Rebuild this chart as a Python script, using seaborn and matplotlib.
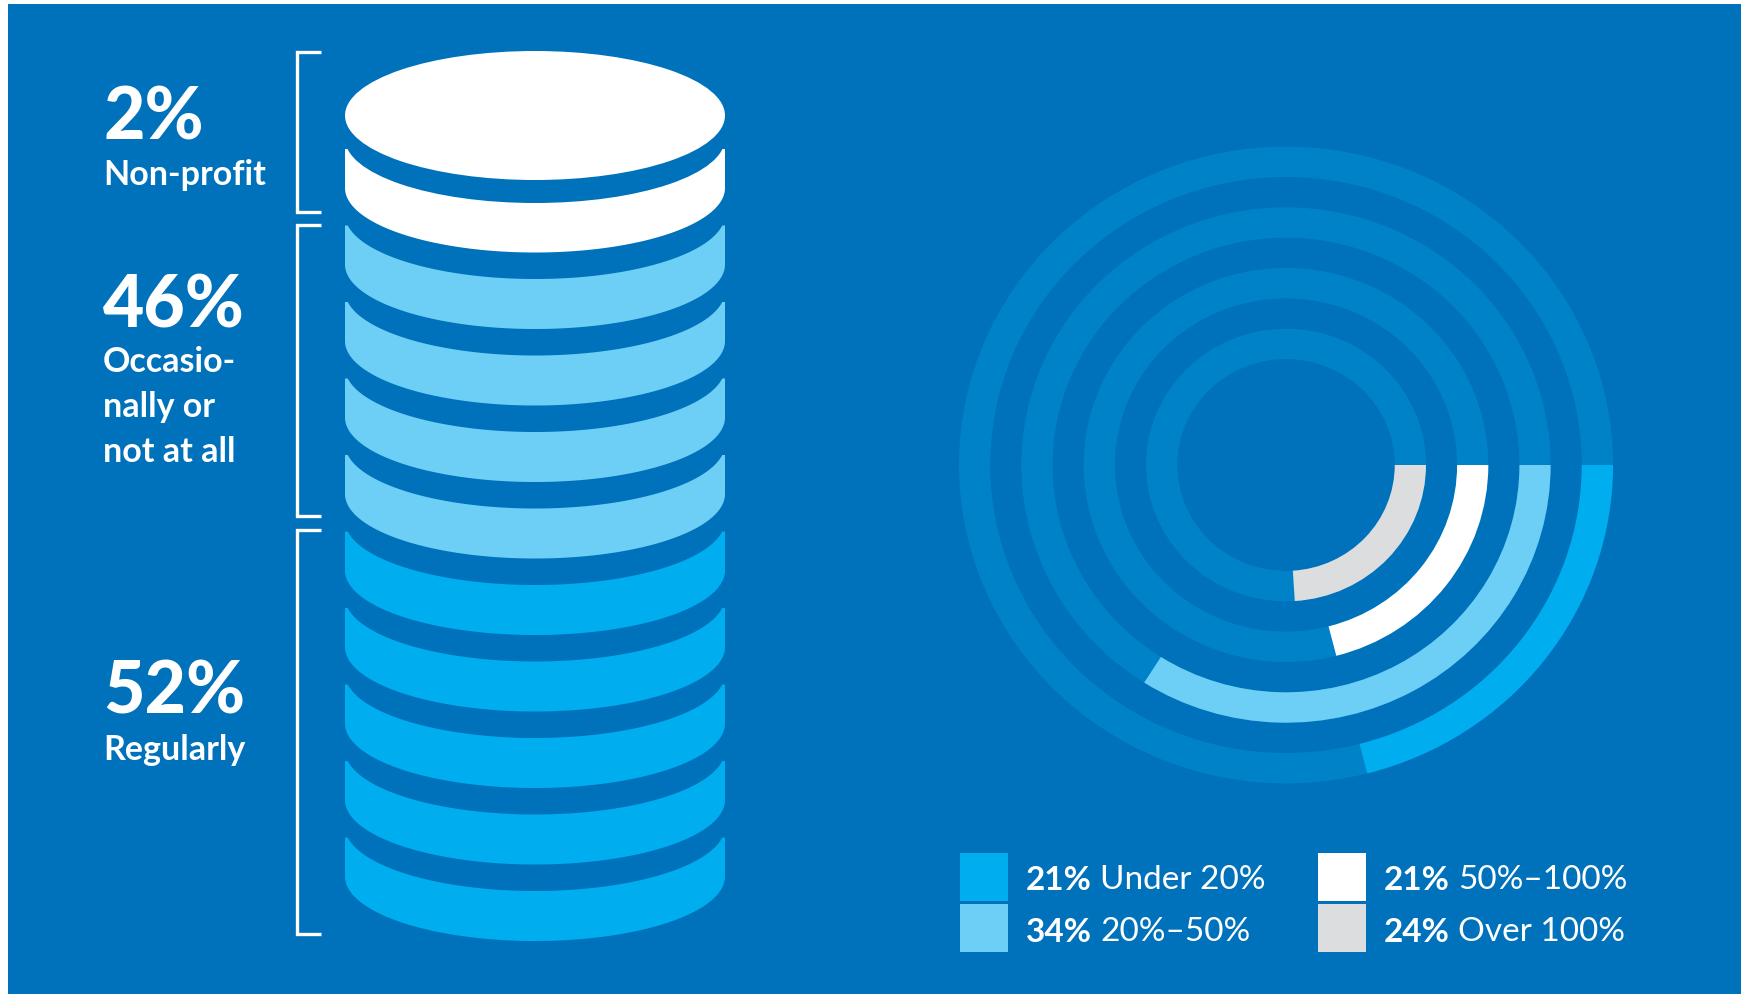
import numpy as np
import pandas as pd
import matplotlib
matplotlib.use("Agg")
import matplotlib.pyplot as plt
from matplotlib.patches import Rectangle, Ellipse, Polygon, Wedge
import seaborn as sns

# ---------------- data ----------------
groups = ["Non-profit", "Occasio-\nnally or\nnot at all", "Regularly"]
group_shares = [2, 46, 52]
group_coins = [1, 4, 5]
group_colors = ["#FFFFFF", "#6DCFF6", "#00AEEF"]

ring_labels = ["Under 20%", "20%\u201350%", "50%\u2013100%", "Over 100%"]
ring_values = [21, 34, 21, 24]
ring_colors = ["#00AEEF", "#6DCFF6", "#FFFFFF", "#DCDDDE"]

BG = "#0071BB"
TRACK = "#0082C9"

sns.set_theme(style="white")
plt.rcParams["font.family"] = ["Lato", "DejaVu Sans"]

W, H = 1744, 995
fig = plt.figure(figsize=(W / 100, H / 100), dpi=100, facecolor="white")
ax = fig.add_axes([0, 0, 1, 1])
ax.set_xlim(0, W)
ax.set_ylim(H, 0)
ax.axis("off")

# background panel
ax.add_patch(Rectangle((8, 5), 1733, 990, facecolor=BG, edgecolor="none", zorder=0))

# ---------------- coin stack ----------------
cx, rx, ry = 535, 190, 64.5
first_top, side_t, pitch, gap = 150, 39, 76.5, 26.5


def coin_poly(ytop, shift=0.0, n=160):
    yb = ytop + side_t + shift
    th = np.linspace(0, np.pi, n)
    pts = [(cx - rx, ytop + shift), (cx + rx, ytop + shift), (cx + rx, yb)]
    pts += list(zip(cx + rx * np.cos(th), yb + ry * np.sin(th)))
    return np.array(pts)


coin_colors = []
for c, n in zip(group_colors, group_coins):
    coin_colors += [c] * n
ncoin = len(coin_colors)
z = 1
for k in range(ncoin - 1, -1, -1):
    ytop = first_top + pitch * k
    ax.add_patch(Polygon(coin_poly(ytop, gap), closed=True, facecolor=BG,
                         edgecolor="none", zorder=z))
    z += 1
    ax.add_patch(Polygon(coin_poly(ytop), closed=True, facecolor=coin_colors[k],
                         edgecolor="none", zorder=z))
    z += 1

# lid
lid_cy = 116.5
ax.add_patch(Ellipse((cx, lid_cy + 23), 2 * rx, 2 * ry, facecolor=BG, edgecolor="none", zorder=z))
z += 1
ax.add_patch(Ellipse((cx, lid_cy), 2 * rx, 2 * ry, facecolor=group_colors[0], edgecolor="none", zorder=z))
z += 1

# brackets
brackets = [(53, 213), (226, 517), (531, 935)]
for y0, y1 in brackets:
    ax.plot([321, 297, 297, 321], [y0, y0, y1, y1], color="white", lw=2.4,
            solid_joinstyle="miter", solid_capstyle="butt", zorder=z)

# group labels
num_base = [139, 328, 714]
lab_base = [185, 372, 760]
for share, lab, yb, yl in zip(group_shares, groups, num_base, lab_base):
    ax.text(103, yb, f"{share}%", color="white", fontsize=51.5, fontweight="black",
            va="baseline", ha="left", zorder=z)
    for i, line in enumerate(lab.split("\n")):
        ax.text(103, yl + 45 * i, line, color="white", fontsize=24.5, fontweight="bold",
                va="baseline", ha="left", zorder=z)

# ---------------- concentric rings ----------------
sx = 1.027
ccx, ccy = 1286, 466
ax2 = fig.add_axes([0, 0, 1, 1])
ax2.set_xlim(-ccx / sx, (W - ccx) / sx)
ax2.set_ylim(-(H - ccy), ccy)
ax2.axis("off")
ax2.patch.set_alpha(0)

outer_r = [318.4, 257.7, 197.0, 136.3]
width = 30.4
for r, v, col in zip(outer_r, ring_values, ring_colors):
    ax2.add_patch(Wedge((0, 0), r, 0, 360, width=width, facecolor=TRACK, edgecolor="none"))
    ax2.add_patch(Wedge((0, 0), r, -v * 3.6, 0, width=width, facecolor=col, edgecolor="none"))

# ---------------- legend ----------------
leg = pd.DataFrame({
    "label": ring_labels,
    "value": ring_values,
    "x": [984, 984, 1341.5, 1341.5],
    "y": [877.5, 929, 877.5, 929],
})
sns.scatterplot(data=leg, x="x", y="y", hue="label", palette=dict(zip(ring_labels, ring_colors)),
                marker="s", s=(48 * 0.72) ** 2, linewidth=0, legend=False, ax=ax, zorder=z)
ax.set_xlim(0, W)
ax.set_ylim(H, 0)
ax.axis("off")

text_x = [1026, 1026, 1384, 1384]
text_y = [890, 942, 890, 942]
for lab, v, tx, ty in zip(ring_labels, ring_values, text_x, text_y):
    t1 = ax.text(tx, ty, f"{v}%", color="white", fontsize=24, fontweight="bold",
                 va="baseline", ha="left", zorder=z)
    ax.annotate(lab, xy=(1, 0), xycoords=t1, xytext=(6, 0), textcoords="offset points",
                color="white", fontsize=24, fontweight="normal", va="bottom", ha="left",
                zorder=z)

fig.savefig("out.png", dpi=100, facecolor="white")
